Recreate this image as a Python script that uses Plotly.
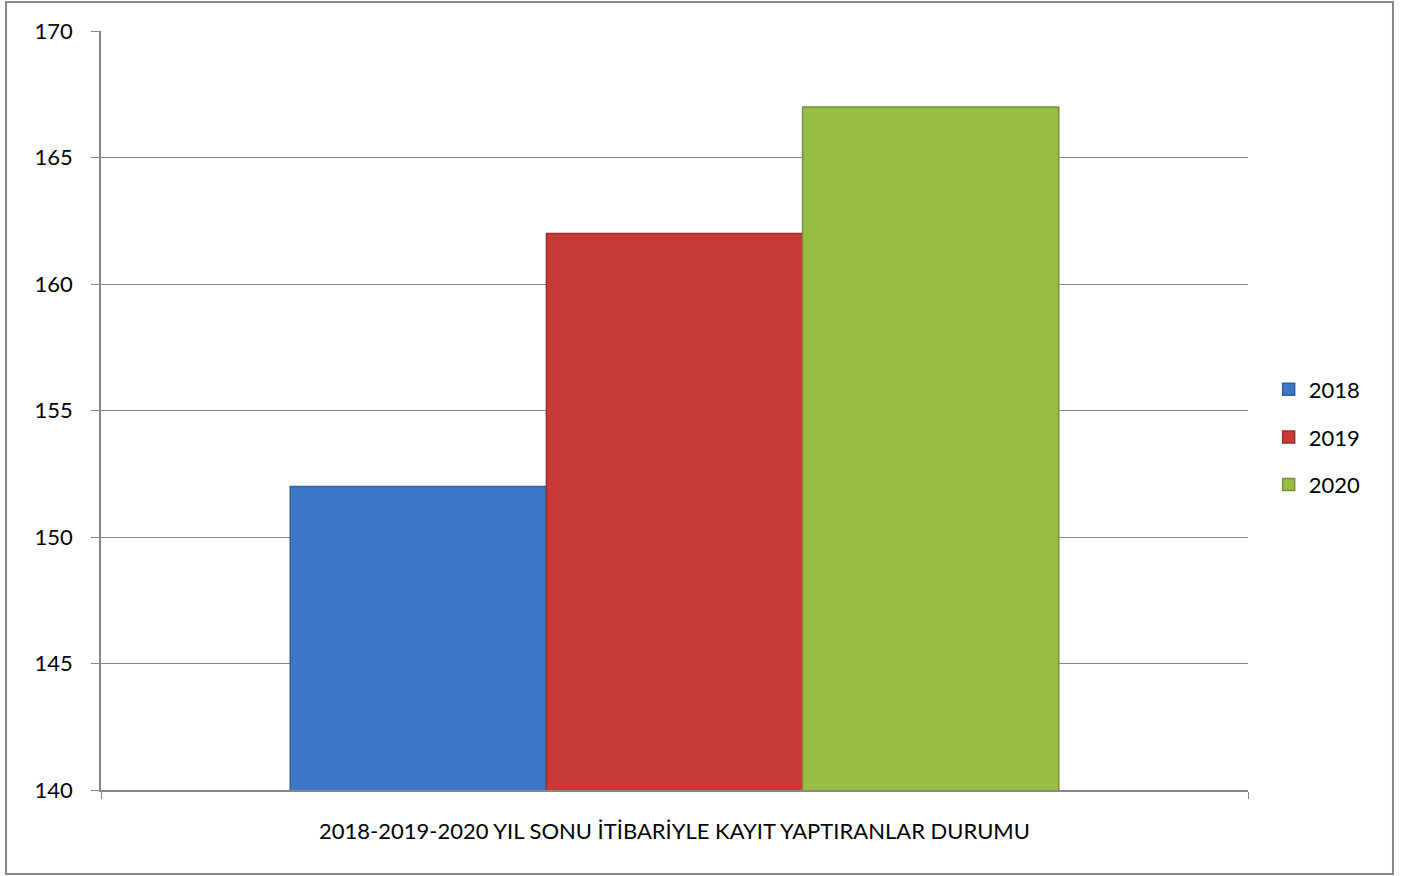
import plotly.graph_objects as go

category = "2018-2019-2020 YIL SONU İTİBARİYLE KAYIT YAPTIRANLAR DURUMU"
years = ["2018", "2019", "2020"]
values = [152, 162, 167]
colors = ["#3d78c8", "#c83a38", "#97bd45"]
edge_colors = ["#2f5f9f", "#9a2c2b", "#76933a"]

y_ticks = [140, 145, 150, 155, 160, 165, 170]

_FONT = "Lato, Open Sans, sans-serif"
_AXIS_GRAY = "#878787"

fig = go.Figure()

for year, val, col, edge in zip(years, values, colors, edge_colors):
    fig.add_trace(
        go.Bar(
            x=[category],
            y=[val],
            name=year,
            legendgroup=year,
            marker=dict(color=col, line=dict(color=edge, width=1.5)),
        )
    )

fig.update_layout(
    width=1408,
    height=876,
    paper_bgcolor="white",
    plot_bgcolor="white",
    barmode="group",
    bargap=0.33,
    bargroupgap=0.0,
    margin=dict(l=101, r=160, t=31, b=86, pad=0),
    font=dict(family=_FONT, size=22, color="black"),
    legend=dict(
        x=1.018,
        y=0.465,
        xanchor="left",
        yanchor="middle",
        font=dict(size=22),
        itemwidth=30,
        tracegroupgap=16,
    ),
    showlegend=True,
)

fig.update_xaxes(
    showline=True,
    linecolor=_AXIS_GRAY,
    linewidth=1.5,
    ticks="outside",
    tickson="boundaries",
    ticklen=7,
    tickcolor=_AXIS_GRAY,
    ticklabelstandoff=21,
    showgrid=False,
)
fig.update_yaxes(
    range=[140, 170],
    tickvals=y_ticks,
    showline=True,
    linecolor=_AXIS_GRAY,
    linewidth=1.5,
    ticks="outside",
    ticklen=8,
    tickcolor=_AXIS_GRAY,
    ticklabelstandoff=14,
    showgrid=True,
    gridcolor=_AXIS_GRAY,
    gridwidth=1.2,
    zeroline=False,
)

# outer chart border
fig.add_shape(
    type="rect",
    xref="paper",
    yref="paper",
    x0=-0.0828,
    x1=1.1264,
    y0=-0.1107,
    y1=1.0382,
    line=dict(color=_AXIS_GRAY, width=2),
    fillcolor="rgba(0,0,0,0)",
    layer="below",
)

fig.write_html(
    "out.html",
    config={"displayModeBar": False},
    post_script="document.body.style.margin='0';",
)
